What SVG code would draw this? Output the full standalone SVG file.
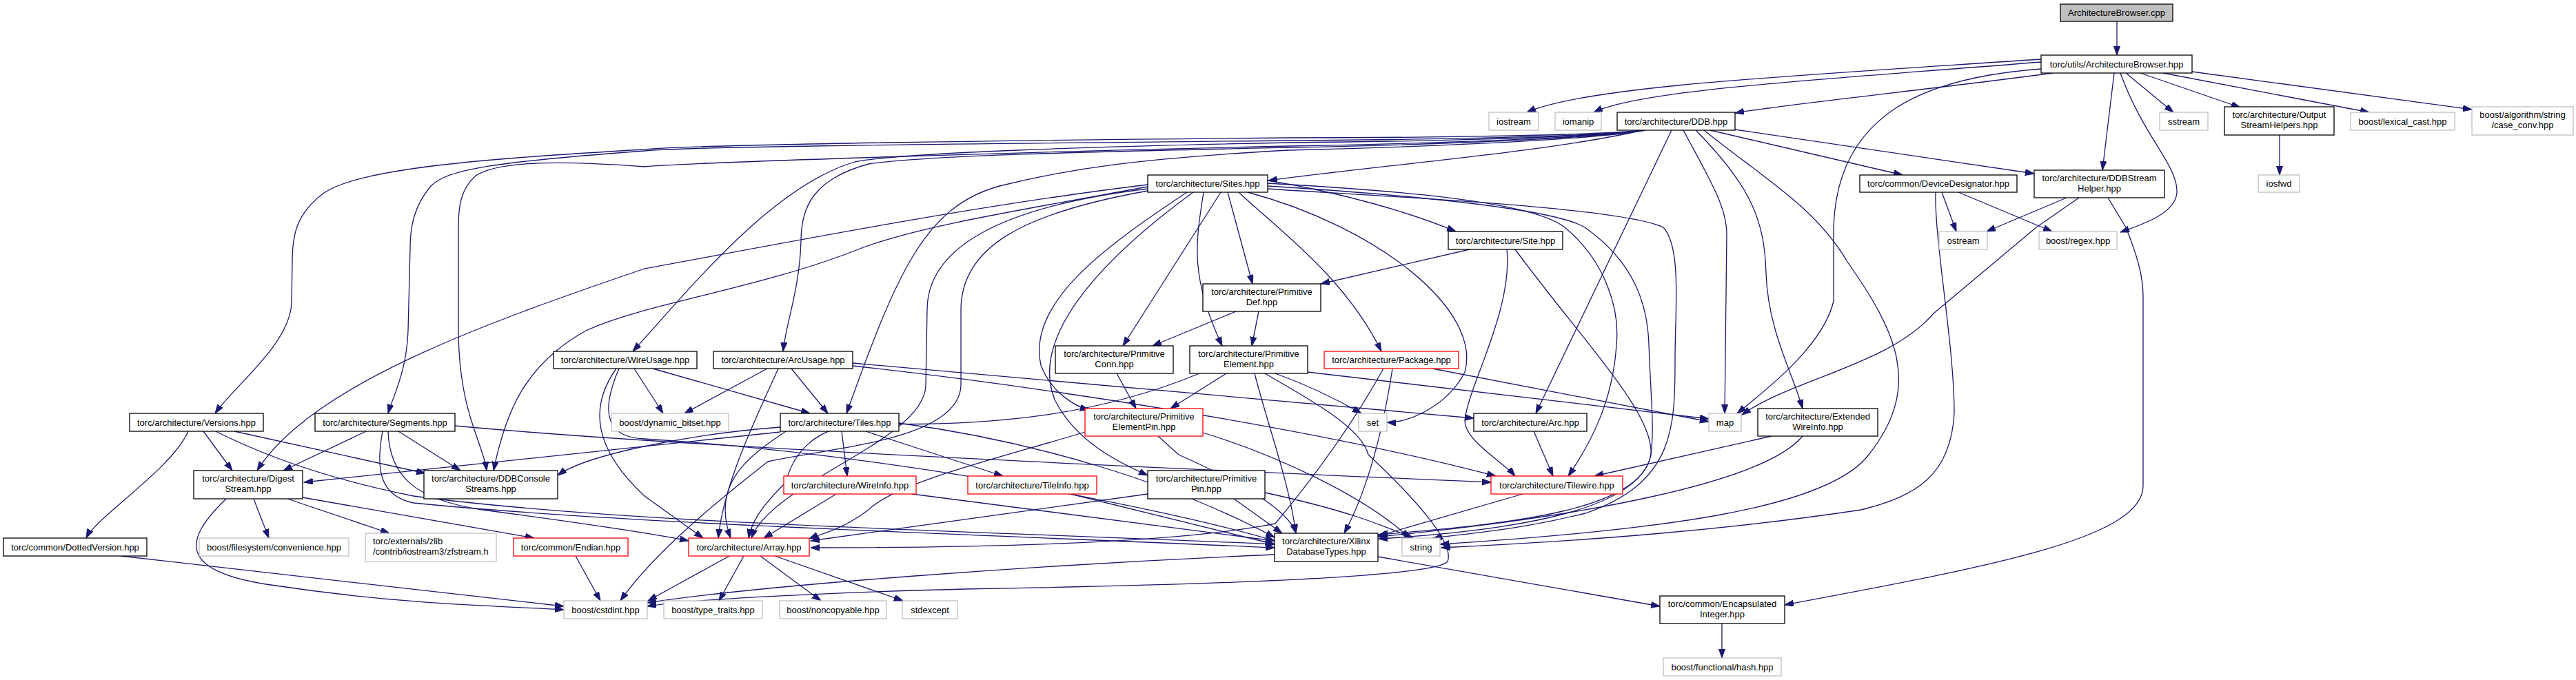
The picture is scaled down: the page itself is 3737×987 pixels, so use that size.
<svg xmlns="http://www.w3.org/2000/svg" width="3737" height="987" viewBox="0 0 3737 987">
<style>
.e{fill:none;stroke:#191970;stroke-width:1.3}
.n rect{fill:#fff;stroke:#000;stroke-width:1.3}
.x rect{fill:#fff;stroke:#bfbfbf;stroke-width:1.3}
.t rect{fill:#fff;stroke:#ff0000;stroke-width:1.3}
.r rect{fill:#bfbfbf;stroke:#000;stroke-width:1.3}
text{font-family:"Liberation Sans",Arial,Helvetica,sans-serif;font-size:13px;fill:#000;text-anchor:middle}
text.l{text-anchor:start}
</style>
<defs>
<marker id="a" markerUnits="userSpaceOnUse" markerWidth="14" markerHeight="10" refX="13" refY="4.5" orient="auto">
<path d="M0,0 L13,4.5 L0,9 z" fill="#191970" stroke="#191970" stroke-width="1"/>
</marker>
</defs>
<rect width="3737" height="987" fill="#fff"/>
<g id="edges">
<path class="e" marker-end="url(#a)" d="M3071,31 L3071,80"/>
<path class="e" marker-end="url(#a)" d="M2961,86 C2600,110 2300,125 2215,163"/>
<path class="e" marker-end="url(#a)" d="M2961,90 C2650,115 2380,130 2312,163"/>
<path class="e" marker-end="url(#a)" d="M2978,106 C2800,130 2600,150 2517,164"/>
<path class="e" marker-end="url(#a)" d="M2961,100 C2800,112 2665,160 2660,330 L2660,437 C2645,500 2570,560 2520,600"/>
<path class="e" marker-end="url(#a)" d="M3084,106 L3153,163"/>
<path class="e" marker-end="url(#a)" d="M3105,106 L3250,156"/>
<path class="e" marker-end="url(#a)" d="M3138,106 L3437,163"/>
<path class="e" marker-end="url(#a)" d="M3180,104 L3586,159"/>
<path class="e" marker-end="url(#a)" d="M3067,106 L3050,247"/>
<path class="e" marker-end="url(#a)" d="M3076,106 C3110,200 3160,240 3158,280 C3155,310 3110,325 3076,337"/>
<path class="e" marker-end="url(#a)" d="M3307,196 L3307,254"/>
<path class="e" marker-end="url(#a)" d="M2481,189 L2760,254"/>
<path class="e" marker-end="url(#a)" d="M2517,188 L2951,252"/>
<path class="e" marker-end="url(#a)" d="M2383,189 C2250,220 2000,240 1840,262"/>
<path class="e" marker-end="url(#a)" d="M2425,189 L2228,600"/>
<path class="e" marker-end="url(#a)" d="M2442,189 C2480,260 2505,300 2505,340 L2502,600"/>
<path class="e" marker-end="url(#a)" d="M2460,189 C2540,270 2560,320 2562,397 C2565,480 2600,540 2615,593"/>
<path class="e" marker-end="url(#a)" d="M2472,189 C2560,260 2633,300 2680,380 C2750,480 2790,560 2711,660 C2650,740 2400,770 2089,790"/>
<path class="e" marker-end="url(#a)" d="M2386,189 C2300,198 2000,200 1870,200 C1500,203 1000,210 935,217 C700,230 520,245 470,280 C430,310 424,340 424,380 L423,440 C420,500 340,560 312,600"/>
<path class="e" marker-end="url(#a)" d="M2386,189 C2300,200 2000,203 1870,204 C1500,208 1000,212 935,219 C720,235 650,245 625,270 C600,300 595,330 595,360 L592,480 C590,540 570,575 563,600"/>
<path class="e" marker-end="url(#a)" d="M2386,189 C2300,202 2000,210 1870,212 C1500,220 1000,236 935,242 C800,232 720,235 690,255 C668,275 665,300 665,330 L665,480 C666,600 700,640 706,683"/>
<path class="e" marker-end="url(#a)" d="M2386,189 C2300,201 2000,206 1870,207 C1600,212 1300,222 1240,235 C1120,270 1000,420 918,510"/>
<path class="e" marker-end="url(#a)" d="M2386,189 C2300,203 2000,212 1870,214 C1600,220 1350,225 1260,238 C1180,260 1162,300 1162,350 C1160,420 1140,470 1136,510"/>
<path class="e" marker-end="url(#a)" d="M2386,189 C2300,205 2000,215 1870,218 C1650,230 1550,245 1450,270 C1340,300 1300,400 1228,600"/>
<path class="e" marker-end="url(#a)" d="M2817,279 L2838,336"/>
<path class="e" marker-end="url(#a)" d="M2841,279 L2977,336"/>
<path class="e" marker-end="url(#a)" d="M2808,279 C2806,350 2835,500 2835,600 C2830,690 2780,720 2700,740 C2500,770 2300,785 2091,795"/>
<path class="e" marker-end="url(#a)" d="M2998,287 L2882,336"/>
<path class="e" marker-end="url(#a)" d="M3016,287 L2954,330 L2805,455 C2740,530 2600,550 2527,602"/>
<path class="e" marker-end="url(#a)" d="M3058,287 L3084,330 C3100,370 3109,400 3109,430 L3109,705 C3109,780 2900,820 2589,878"/>
<path class="e" marker-end="url(#a)" d="M2132,362 L1916,412"/>
<path class="e" marker-end="url(#a)" d="M2186,362 C2195,450 2130,560 2125,610 C2125,640 2180,670 2198,691"/>
<path class="e" marker-end="url(#a)" d="M2198,362 C2300,500 2400,600 2395,660 C2380,740 2200,760 2000,776"/>
<path class="e" marker-end="url(#a)" d="M1839,262 C1950,280 2050,310 2112,336"/>
<path class="e" marker-end="url(#a)" d="M1781,279 L1817,412"/>
<path class="e" marker-end="url(#a)" d="M1771,279 L1629,502"/>
<path class="e" marker-end="url(#a)" d="M1746,279 C1735,350 1725,400 1773,502"/>
<path class="e" marker-end="url(#a)" d="M1722,279 C1600,360 1490,440 1510,530 C1525,570 1560,590 1580,595"/>
<path class="e" marker-end="url(#a)" d="M1731,279 C1620,360 1490,480 1530,580 C1560,640 1620,670 1665,690"/>
<path class="e" marker-end="url(#a)" d="M1797,279 C1850,330 1950,400 2004,510"/>
<path class="e" marker-end="url(#a)" d="M1810,279 C2000,330 2150,450 2125,540 C2100,590 2040,615 2012,613"/>
<path class="e" marker-end="url(#a)" d="M1839,266 C2000,275 2220,290 2270,330 C2330,380 2350,450 2345,500 C2340,580 2310,640 2275,691"/>
<path class="e" marker-end="url(#a)" d="M1839,270 C2000,280 2250,300 2299,330 C2370,380 2390,440 2392,500 C2395,580 2400,620 2395,660 C2380,740 2200,770 2000,782"/>
<path class="e" marker-end="url(#a)" d="M1839,274 C2000,285 2350,300 2413,330 C2440,360 2430,450 2430,520 C2430,620 2430,700 2300,745 C2200,770 2120,775 2079,781"/>
<path class="e" marker-end="url(#a)" d="M1665,268 C1400,300 1100,360 935,390 C700,470 450,560 373,683"/>
<path class="e" marker-end="url(#a)" d="M1665,271 C1450,310 1330,330 1250,360 C1100,420 935,440 850,480 C760,530 733,600 716,683"/>
<path class="e" marker-end="url(#a)" d="M1665,274 C1450,300 1345,360 1345,450 L1343,560 C1340,640 1120,700 1090,781"/>
<path class="e" marker-end="url(#a)" d="M1665,277 C1480,310 1394,360 1394,450 L1394,560 C1390,640 1200,650 1114,670 C1050,720 950,800 900,872"/>
<path class="e" marker-end="url(#a)" d="M1793,452 L1672,502"/>
<path class="e" marker-end="url(#a)" d="M1826,452 L1816,502"/>
<path class="e" marker-end="url(#a)" d="M1620,542 L1648,593"/>
<path class="e" marker-end="url(#a)" d="M1779,542 L1698,593"/>
<path class="e" marker-end="url(#a)" d="M1897,540 L2479,608"/>
<path class="e" marker-end="url(#a)" d="M1850,542 C1900,560 1940,580 1975,600"/>
<path class="e" marker-end="url(#a)" d="M1820,542 C1840,620 1870,700 1880,774"/>
<path class="e" marker-end="url(#a)" d="M1740,542 C1600,600 1450,620 1250,615 C1180,620 1150,660 1140,700 C1100,740 1090,760 1086,781"/>
<path class="e" marker-end="url(#a)" d="M1835,542 C1900,580 1975,620 1985,660 C2060,730 2110,790 2100,815 C2080,840 1700,850 1400,855 C1200,860 1000,870 939,880"/>
<path class="e" marker-end="url(#a)" d="M1574,627 C1450,665 1300,700 1260,740 C1220,770 1190,775 1174,782"/>
<path class="e" marker-end="url(#a)" d="M1680,633 L1710,660 C1800,700 1870,740 1880,774"/>
<path class="e" marker-end="url(#a)" d="M1745,628 C1850,660 1980,720 2045,781"/>
<path class="e" marker-end="url(#a)" d="M1665,717 L1176,785"/>
<path class="e" marker-end="url(#a)" d="M1790,724 L1860,774"/>
<path class="e" marker-end="url(#a)" d="M1835,715 C1950,740 2000,760 2050,781"/>
<path class="e" marker-end="url(#a)" d="M2020,535 C2010,600 1990,700 1950,774"/>
<path class="e" marker-end="url(#a)" d="M2007,535 C1960,620 1900,700 1850,760 C1700,790 1400,795 1176,795"/>
<path class="e" marker-end="url(#a)" d="M2078,535 L2479,612"/>
<path class="e" marker-end="url(#a)" d="M1221,626 L1229,691"/>
<path class="e" marker-end="url(#a)" d="M1256,626 L1455,691"/>
<path class="e" marker-end="url(#a)" d="M1140,626 C1090,660 1030,700 1060,781"/>
<path class="e" marker-end="url(#a)" d="M1304,614 C1500,640 1700,700 1849,780"/>
<path class="e" marker-end="url(#a)" d="M1132,627 L441,700"/>
<path class="e" marker-end="url(#a)" d="M1132,620 C1000,630 850,660 809,690"/>
<path class="e" marker-end="url(#a)" d="M1213,717 L1108,781"/>
<path class="e" marker-end="url(#a)" d="M1323,717 L1849,785"/>
<path class="e" marker-end="url(#a)" d="M1553,717 L1849,790"/>
<path class="e" marker-end="url(#a)" d="M2209,717 L1999,778"/>
<path class="e" marker-end="url(#a)" d="M1999,808 L2408,880"/>
<path class="e" marker-end="url(#a)" d="M1849,805 C1500,820 1100,850 939,875"/>
<path class="e" marker-end="url(#a)" d="M1058,807 L940,872"/>
<path class="e" marker-end="url(#a)" d="M1079,807 L1043,872"/>
<path class="e" marker-end="url(#a)" d="M1103,807 L1191,872"/>
<path class="e" marker-end="url(#a)" d="M1124,807 L1310,872"/>
<path class="e" marker-end="url(#a)" d="M835,807 L871,872"/>
<path class="e" marker-end="url(#a)" d="M328,724 C270,780 250,830 400,850 C600,880 750,880 818,885"/>
<path class="e" marker-end="url(#a)" d="M368,724 L390,781"/>
<path class="e" marker-end="url(#a)" d="M417,724 L565,774"/>
<path class="e" marker-end="url(#a)" d="M439,722 L775,781"/>
<path class="e" marker-end="url(#a)" d="M175,807 L818,880"/>
<path class="e" marker-end="url(#a)" d="M273,626 C250,680 140,750 125,781"/>
<path class="e" marker-end="url(#a)" d="M295,626 L337,683"/>
<path class="e" marker-end="url(#a)" d="M340,626 L617,687"/>
<path class="e" marker-end="url(#a)" d="M313,626 C400,670 500,700 600,720 C900,760 1400,770 1849,790"/>
<path class="e" marker-end="url(#a)" d="M531,626 L411,683"/>
<path class="e" marker-end="url(#a)" d="M578,626 L668,683"/>
<path class="e" marker-end="url(#a)" d="M555,626 C545,680 550,720 600,730 C900,760 1400,775 1849,795"/>
<path class="e" marker-end="url(#a)" d="M563,626 C565,690 600,725 700,740 C850,760 950,775 999,785"/>
<path class="e" marker-end="url(#a)" d="M660,618 C1000,650 1700,680 2163,700"/>
<path class="e" marker-end="url(#a)" d="M1113,535 L993,600"/>
<path class="e" marker-end="url(#a)" d="M1148,535 L1201,600"/>
<path class="e" marker-end="url(#a)" d="M1237,527 L2138,607"/>
<path class="e" marker-end="url(#a)" d="M1237,531 C1500,560 1900,620 2170,691"/>
<path class="e" marker-end="url(#a)" d="M1129,535 C1100,600 1050,700 1042,781"/>
<path class="e" marker-end="url(#a)" d="M920,535 L962,600"/>
<path class="e" marker-end="url(#a)" d="M947,535 L1175,600"/>
<path class="e" marker-end="url(#a)" d="M894,535 C855,590 860,650 935,720 L1020,781"/>
<path class="e" marker-end="url(#a)" d="M898,535 C870,600 880,635 935,637 C1300,660 1700,740 1849,785"/>
<path class="e" marker-end="url(#a)" d="M2225,626 L2253,691"/>
<path class="e" marker-end="url(#a)" d="M2570,633 L2313,691"/>
<path class="e" marker-end="url(#a)" d="M2615,633 C2560,700 2300,750 2000,779"/>
<path class="e" marker-end="url(#a)" d="M2498,905 L2498,955"/>
</g>
<g id="n1" class="r"><rect x="2989" y="6" width="163" height="25"/><text x="3070.5" y="23">ArchitectureBrowser.cpp</text></g>
<g id="n2" class="n"><rect x="2961" y="80" width="219" height="26"/><text x="3070.5" y="97.5">torc/utils/ArchitectureBrowser.hpp</text></g>
<g id="n3" class="x"><rect x="2160" y="163" width="72" height="26"/><text x="2196" y="180.5">iostream</text></g>
<g id="n4" class="x"><rect x="2256" y="163" width="67" height="26"/><text x="2289.5" y="180.5">iomanip</text></g>
<g id="n5" class="n"><rect x="2346" y="163" width="171" height="26"/><text x="2431.5" y="180.5">torc/architecture/DDB.hpp</text></g>
<g id="n6" class="x"><rect x="3133" y="163" width="70" height="26"/><text x="3168" y="180.5">sstream</text></g>
<g id="n7" class="n"><rect x="3227" y="155" width="159" height="41"/><text x="3306.5" y="171">torc/architecture/Output</text><text x="3306.5" y="186">StreamHelpers.hpp</text></g>
<g id="n8" class="x"><rect x="3410" y="163" width="151" height="26"/><text x="3485.5" y="180.5">boost/lexical_cast.hpp</text></g>
<g id="n9" class="x"><rect x="3586" y="155" width="147" height="41"/><text x="3659.5" y="171">boost/algorithm/string</text><text x="3659.5" y="186">/case_conv.hpp</text></g>
<g id="n10" class="x"><rect x="3276" y="254" width="60" height="25"/><text x="3306" y="271">iosfwd</text></g>
<g id="n11" class="n"><rect x="1665" y="254" width="174" height="25"/><text x="1752" y="271">torc/architecture/Sites.hpp</text></g>
<g id="n12" class="n"><rect x="2698" y="254" width="228" height="25"/><text x="2812" y="271">torc/common/DeviceDesignator.hpp</text></g>
<g id="n13" class="n"><rect x="2951" y="247" width="189" height="40"/><text x="3045.5" y="263">torc/architecture/DDBStream</text><text x="3045.5" y="278">Helper.hpp</text></g>
<g id="n14" class="n"><rect x="2101" y="336" width="166" height="26"/><text x="2184" y="353.5">torc/architecture/Site.hpp</text></g>
<g id="n15" class="x"><rect x="2813" y="336" width="70" height="26"/><text x="2848" y="353.5">ostream</text></g>
<g id="n16" class="x"><rect x="2958" y="336" width="113" height="26"/><text x="3014.5" y="353.5">boost/regex.hpp</text></g>
<g id="n17" class="n"><rect x="1745" y="412" width="171" height="40"/><text x="1830.5" y="428">torc/architecture/Primitive</text><text x="1830.5" y="443">Def.hpp</text></g>
<g id="n18" class="n"><rect x="803" y="510" width="208" height="25"/><text x="907" y="527">torc/architecture/WireUsage.hpp</text></g>
<g id="n19" class="n"><rect x="1035" y="510" width="202" height="25"/><text x="1136" y="527">torc/architecture/ArcUsage.hpp</text></g>
<g id="n20" class="n"><rect x="1531" y="502" width="171" height="40"/><text x="1616.5" y="518">torc/architecture/Primitive</text><text x="1616.5" y="533">Conn.hpp</text></g>
<g id="n21" class="n"><rect x="1726" y="502" width="171" height="40"/><text x="1811.5" y="518">torc/architecture/Primitive</text><text x="1811.5" y="533">Element.hpp</text></g>
<g id="n22" class="t"><rect x="1921" y="510" width="195" height="25"/><text x="2018.5" y="527">torc/architecture/Package.hpp</text></g>
<g id="n23" class="x"><rect x="2479" y="600" width="47" height="26"/><text x="2502.5" y="617.5">map</text></g>
<g id="n24" class="n"><rect x="188" y="600" width="194" height="26"/><text x="285" y="617.5">torc/architecture/Versions.hpp</text></g>
<g id="n25" class="n"><rect x="457" y="600" width="203" height="26"/><text x="558.5" y="617.5">torc/architecture/Segments.hpp</text></g>
<g id="n26" class="x"><rect x="887" y="600" width="170" height="26"/><text x="972" y="617.5">boost/dynamic_bitset.hpp</text></g>
<g id="n27" class="n"><rect x="1132" y="600" width="172" height="26"/><text x="1218" y="617.5">torc/architecture/Tiles.hpp</text></g>
<g id="n28" class="t"><rect x="1574" y="593" width="171" height="40"/><text x="1659.5" y="609">torc/architecture/Primitive</text><text x="1659.5" y="624">ElementPin.hpp</text></g>
<g id="n29" class="x"><rect x="1971" y="600" width="41" height="26"/><text x="1991.5" y="617.5">set</text></g>
<g id="n30" class="n"><rect x="2138" y="600" width="164" height="26"/><text x="2220" y="617.5">torc/architecture/Arc.hpp</text></g>
<g id="n31" class="n"><rect x="2550" y="593" width="174" height="40"/><text x="2637" y="609">torc/architecture/Extended</text><text x="2637" y="624">WireInfo.hpp</text></g>
<g id="n32" class="n"><rect x="281" y="683" width="158" height="41"/><text x="360" y="699">torc/architecture/Digest</text><text x="360" y="714">Stream.hpp</text></g>
<g id="n33" class="n"><rect x="615" y="683" width="194" height="41"/><text x="712" y="699">torc/architecture/DDBConsole</text><text x="712" y="714">Streams.hpp</text></g>
<g id="n34" class="t"><rect x="1137" y="691" width="192" height="26"/><text x="1233" y="708.5">torc/architecture/WireInfo.hpp</text></g>
<g id="n35" class="t"><rect x="1404" y="691" width="187" height="26"/><text x="1497.5" y="708.5">torc/architecture/TileInfo.hpp</text></g>
<g id="n36" class="n"><rect x="1665" y="683" width="170" height="41"/><text x="1750" y="699">torc/architecture/Primitive</text><text x="1750" y="714">Pin.hpp</text></g>
<g id="n37" class="t"><rect x="2163" y="691" width="191" height="26"/><text x="2258.5" y="708.5">torc/architecture/Tilewire.hpp</text></g>
<g id="n38" class="n"><rect x="5" y="781" width="208" height="26"/><text x="109" y="798.5">torc/common/DottedVersion.hpp</text></g>
<g id="n39" class="x"><rect x="289" y="781" width="217" height="26"/><text x="397.5" y="798.5">boost/filesystem/convenience.hpp</text></g>
<g id="n40" class="x"><rect x="530" y="774" width="190" height="41"/><text class="l" x="541" y="790">torc/externals/zlib</text><text class="l" x="541" y="805">/contrib/iostream3/zfstream.h</text></g>
<g id="n41" class="t"><rect x="745" y="781" width="166" height="26"/><text x="828" y="798.5">torc/common/Endian.hpp</text></g>
<g id="n42" class="t"><rect x="999" y="781" width="175" height="26"/><text x="1086.5" y="798.5">torc/architecture/Array.hpp</text></g>
<g id="n43" class="n"><rect x="1849" y="774" width="150" height="41"/><text x="1924" y="790">torc/architecture/Xilinx</text><text x="1924" y="805">DatabaseTypes.hpp</text></g>
<g id="n44" class="x"><rect x="2034" y="781" width="55" height="26"/><text x="2061.5" y="798.5">string</text></g>
<g id="n45" class="n"><rect x="2408" y="865" width="181" height="40"/><text x="2498.5" y="881">torc/common/Encapsulated</text><text x="2498.5" y="896">Integer.hpp</text></g>
<g id="n46" class="x"><rect x="818" y="872" width="121" height="26"/><text x="878.5" y="889.5">boost/cstdint.hpp</text></g>
<g id="n47" class="x"><rect x="963" y="872" width="143" height="26"/><text x="1034.5" y="889.5">boost/type_traits.hpp</text></g>
<g id="n48" class="x"><rect x="1131" y="872" width="155" height="26"/><text x="1208.5" y="889.5">boost/noncopyable.hpp</text></g>
<g id="n49" class="x"><rect x="1309" y="872" width="80" height="26"/><text x="1349" y="889.5">stdexcept</text></g>
<g id="n50" class="x"><rect x="2413" y="955" width="171" height="26"/><text x="2498.5" y="972.5">boost/functional/hash.hpp</text></g>
</svg>
